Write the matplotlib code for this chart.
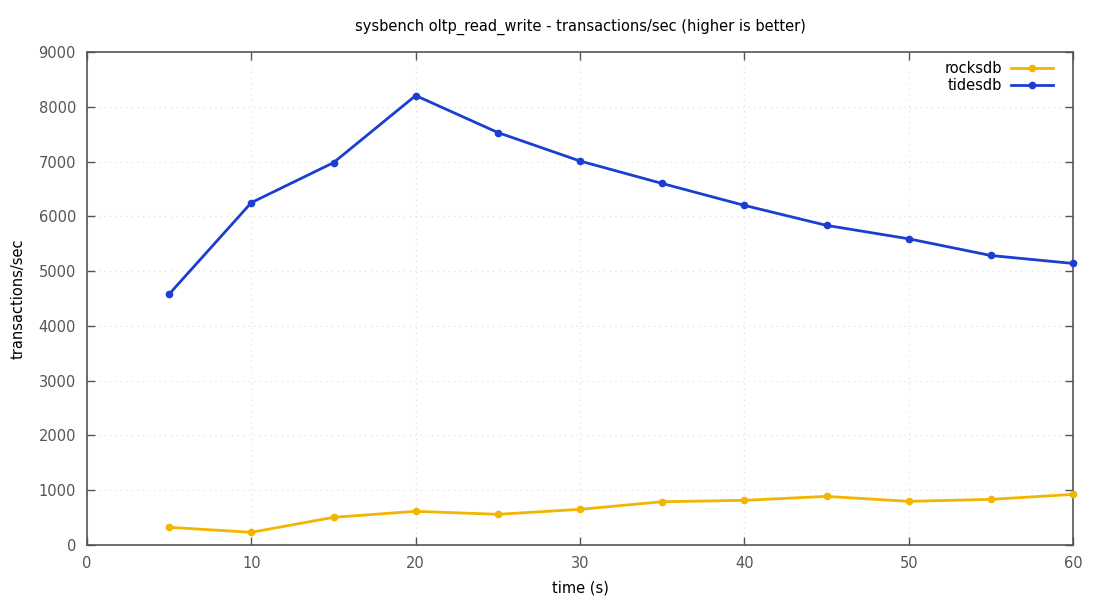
import matplotlib
matplotlib.use("Agg")
import matplotlib.pyplot as plt

time_s = [5, 10, 15, 20, 25, 30, 35, 40, 45, 50, 55, 60]
rocksdb = [323, 232, 505, 615, 560, 651, 790, 815, 888, 797, 833, 924]
tidesdb = [4580, 6250, 6980, 8205, 7530, 7010, 6600, 6200, 5835, 5590, 5285, 5140]

x_ticks = [0, 10, 20, 30, 40, 50, 60]
y_ticks = [0, 1000, 2000, 3000, 4000, 5000, 6000, 7000, 8000, 9000]

plt.rcParams['font.family'] = ['DejaVu Sans']

fig = plt.figure(figsize=(11, 6), dpi=100)
ax = fig.add_axes([87/1100, 1 - 545/600, (1073 - 87)/1100, (545 - 52)/600])

ax.plot(time_s, rocksdb, color='#f2b600', lw=2, marker='o', ms=4.5, label='rocksdb', clip_on=False, zorder=3)
ax.plot(time_s, tidesdb, color='#1a3fd0', lw=2, marker='o', ms=4.5, label='tidesdb', clip_on=False, zorder=3)

ax.set_xlim(0, 60)
ax.set_ylim(0, 9000)
ax.set_xticks(x_ticks)
ax.set_yticks(y_ticks)
ax.grid(True, color='#dddddd', linestyle=(0, (1, 4)), linewidth=0.8)
for s in ax.spines.values():
    s.set_color('#555555')
    s.set_linewidth(1.2)
ax.tick_params(direction='in', length=6, width=1, colors='#555555', labelcolor='#555555',
               labelsize=10.5, top=True, right=True, pad=8)

ax.set_xlabel('time (s)', fontsize=10.5, labelpad=7)
ax.set_ylabel('transactions/sec', fontsize=10.5, labelpad=9)
ax.set_title('sysbench oltp_read_write - transactions/sec (higher is better)', fontsize=10.5, pad=15)

leg = ax.legend(loc='upper right', bbox_to_anchor=(1 - 10/986, 1 + 1.5/493), frameon=False,
                markerfirst=False, fontsize=10.5, handlelength=2.9, borderaxespad=0.3,
                labelspacing=0.15, handletextpad=0.6)

fig.savefig('out.png', dpi=100)
